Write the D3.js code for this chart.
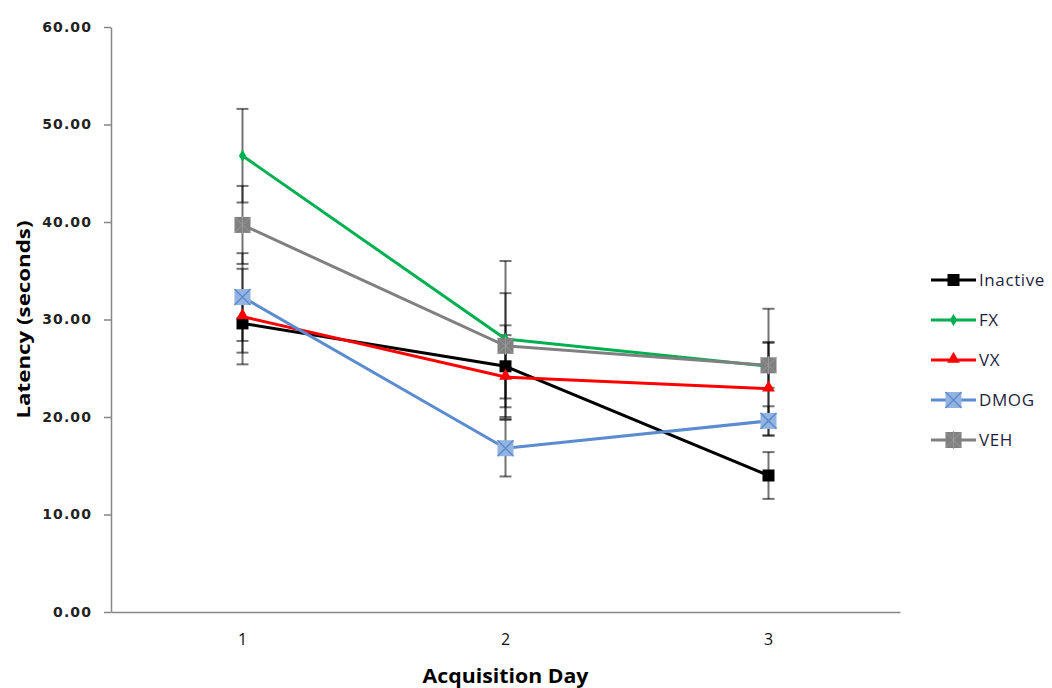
<!DOCTYPE html>
<html>
<head>
<meta charset="utf-8">
<script src="https://cdn.jsdelivr.net/npm/d3@7"></script>
<style>
  body { margin: 0; background: #fff; }
  svg { display: block; }
</style>
</head>
<body>
<div id="grafico"></div>
<script>
// data
const days = [1, 2, 3];
const seriesNames = ['Inactive', 'FX', 'VX', 'DMOG', 'VEH'];
const inactive = [29.6, 25.2, 14.0];
const fx = [46.8, 28.0, 25.2];
const vx = [30.3, 24.1, 22.9];
const dmog = [32.3, 16.8, 19.6];
const veh = [39.7, 27.3, 25.3];
const inactiveErr = [3.0, 4.2, 2.4];
const fxErr = [4.8, 8.0, 5.9];
const vxErr = [4.9, 4.3, 4.8];
const dmogErr = [4.5, 2.9, 1.5];
const vehErr = [4.0, 5.4, 2.3];
const yTicks = [0, 10, 20, 30, 40, 50, 60];

const colors = { Inactive: '#000000', FX: '#00b050', VX: '#ff0000', DMOG: '#5b8ccf', VEH: '#808080' };
const series = [
  { name: 'Inactive', values: inactive, err: inactiveErr },
  { name: 'FX', values: fx, err: fxErr },
  { name: 'VX', values: vx, err: vxErr },
  { name: 'DMOG', values: dmog, err: dmogErr },
  { name: 'VEH', values: veh, err: vehErr }
];

const width = 1052, height = 688;
const svg = d3.select('#grafico').append('svg')
  .attr('width', width).attr('height', height);

const x = d3.scaleBand().domain(days).range([111, 900]);
const cx = d => x(d) + x.bandwidth() / 2;
const y = d3.scaleLinear().domain([0, 60]).range([612, 27]);

// y axis
const yAxis = svg.append('g')
  .attr('transform', 'translate(111,0)')
  .call(d3.axisLeft(y).tickValues(yTicks).tickFormat(d3.format('.2f')).tickSize(7).tickPadding(12).tickSizeOuter(0));
yAxis.select('.domain').attr('stroke', '#868686').attr('stroke-width', 1.5);
yAxis.selectAll('.tick line').attr('stroke', '#868686').attr('stroke-width', 1.5);
yAxis.selectAll('text')
  .attr('fill', '#222')
  .style('font-family', 'DejaVu Sans, Verdana, sans-serif')
  .style('font-size', '14px')
  .style('font-weight', 'bold')
  .style('letter-spacing', '1.1px');

// x axis
const xAxis = svg.append('g')
  .attr('transform', 'translate(0,612)')
  .call(d3.axisBottom(x).tickSize(0).tickPadding(22).tickSizeOuter(0));
xAxis.select('.domain').attr('stroke', '#868686').attr('stroke-width', 1.5);
xAxis.selectAll('text')
  .attr('fill', '#111')
  .style('font-family', 'Open Sans, sans-serif')
  .style('font-size', '16px');

// axis titles
svg.append('text')
  .attr('transform', `translate(30,${y(30)}) rotate(-90)`)
  .attr('text-anchor', 'middle')
  .attr('textLength', 198)
  .attr('lengthAdjust', 'spacingAndGlyphs')
  .style('font-family', 'Open Sans, sans-serif')
  .style('font-size', '17px')
  .style('font-weight', 'bold')
  .text('Latency (seconds)');

svg.append('text')
  .attr('x', cx(2))
  .attr('y', 683)
  .attr('text-anchor', 'middle')
  .attr('textLength', 166)
  .attr('lengthAdjust', 'spacingAndGlyphs')
  .style('font-family', 'Open Sans, sans-serif')
  .style('font-size', '19px')
  .style('font-weight', 'bold')
  .text('Acquisition Day');

// error bars
const errG = svg.append('g');
series.forEach(s => {
  days.forEach((d, i) => {
    const hi = y(s.values[i] + s.err[i]), lo = y(s.values[i] - s.err[i]);
    const g = errG.append('g').attr('stroke', '#000').attr('stroke-opacity', 0.55).attr('stroke-width', 2);
    g.append('line').attr('x1', cx(d)).attr('x2', cx(d)).attr('y1', hi).attr('y2', lo);
    g.append('line').attr('x1', cx(d) - 6).attr('x2', cx(d) + 6).attr('y1', hi).attr('y2', hi);
    g.append('line').attr('x1', cx(d) - 6).attr('x2', cx(d) + 6).attr('y1', lo).attr('y2', lo);
  });
});

// marker drawing
function drawMarker(g, name, px, py) {
  const c = colors[name];
  if (name === 'Inactive') {
    g.append('rect').attr('x', px - 6).attr('y', py - 6).attr('width', 12).attr('height', 12).attr('fill', c);
  } else if (name === 'FX') {
    g.append('path').attr('transform', `translate(${px},${py})`)
      .attr('d', d3.symbol(d3.symbolDiamond, 45)()).attr('fill', c);
  } else if (name === 'VX') {
    g.append('path').attr('transform', `translate(${px},${py - 1})`)
      .attr('d', d3.symbol(d3.symbolTriangle, 70)()).attr('fill', c);
  } else if (name === 'DMOG') {
    g.append('rect').attr('x', px - 8).attr('y', py - 8).attr('width', 16).attr('height', 16)
      .attr('fill', '#95b3e0');
    g.append('path').attr('d', `M${px - 8},${py - 8}L${px + 8},${py + 8}M${px + 8},${py - 8}L${px - 8},${py + 8}`)
      .attr('stroke', '#5b8ccf').attr('stroke-width', 1.5);
  } else {
    g.append('rect').attr('x', px - 8).attr('y', py - 8).attr('width', 16).attr('height', 16).attr('fill', c);
    g.append('path').attr('d', `M${px - 8},${py - 8}L${px + 8},${py + 8}M${px + 8},${py - 8}L${px - 8},${py + 8}M${px},${py - 9}L${px},${py + 9}`)
      .attr('stroke', '#999').attr('stroke-width', 1);
  }
}

// lines + markers
const line = d3.line().x((v, i) => cx(days[i])).y(v => y(v));
series.forEach(s => {
  const g = svg.append('g');
  g.append('path').datum(s.values)
    .attr('d', line)
    .attr('fill', 'none')
    .attr('stroke', colors[s.name])
    .attr('stroke-width', 3);
  s.values.forEach((v, i) => drawMarker(g, s.name, cx(days[i]), y(v)));
});

// legend
const legend = svg.append('g');
seriesNames.forEach((name, i) => {
  const ly = 280 + i * 40;
  const g = legend.append('g');
  g.append('line').attr('x1', 931).attr('x2', 976).attr('y1', ly).attr('y2', ly)
    .attr('stroke', colors[name]).attr('stroke-width', 3);
  drawMarker(g, name, 953.5, ly);
  g.append('text').attr('x', 979).attr('y', ly + 6)
    .attr('fill', '#1f1f3f')
    .style('font-family', 'Open Sans, sans-serif')
    .style('font-size', '17px')
    .style('letter-spacing', '0.6px')
    .text(name);
});
</script>
</body>
</html>
